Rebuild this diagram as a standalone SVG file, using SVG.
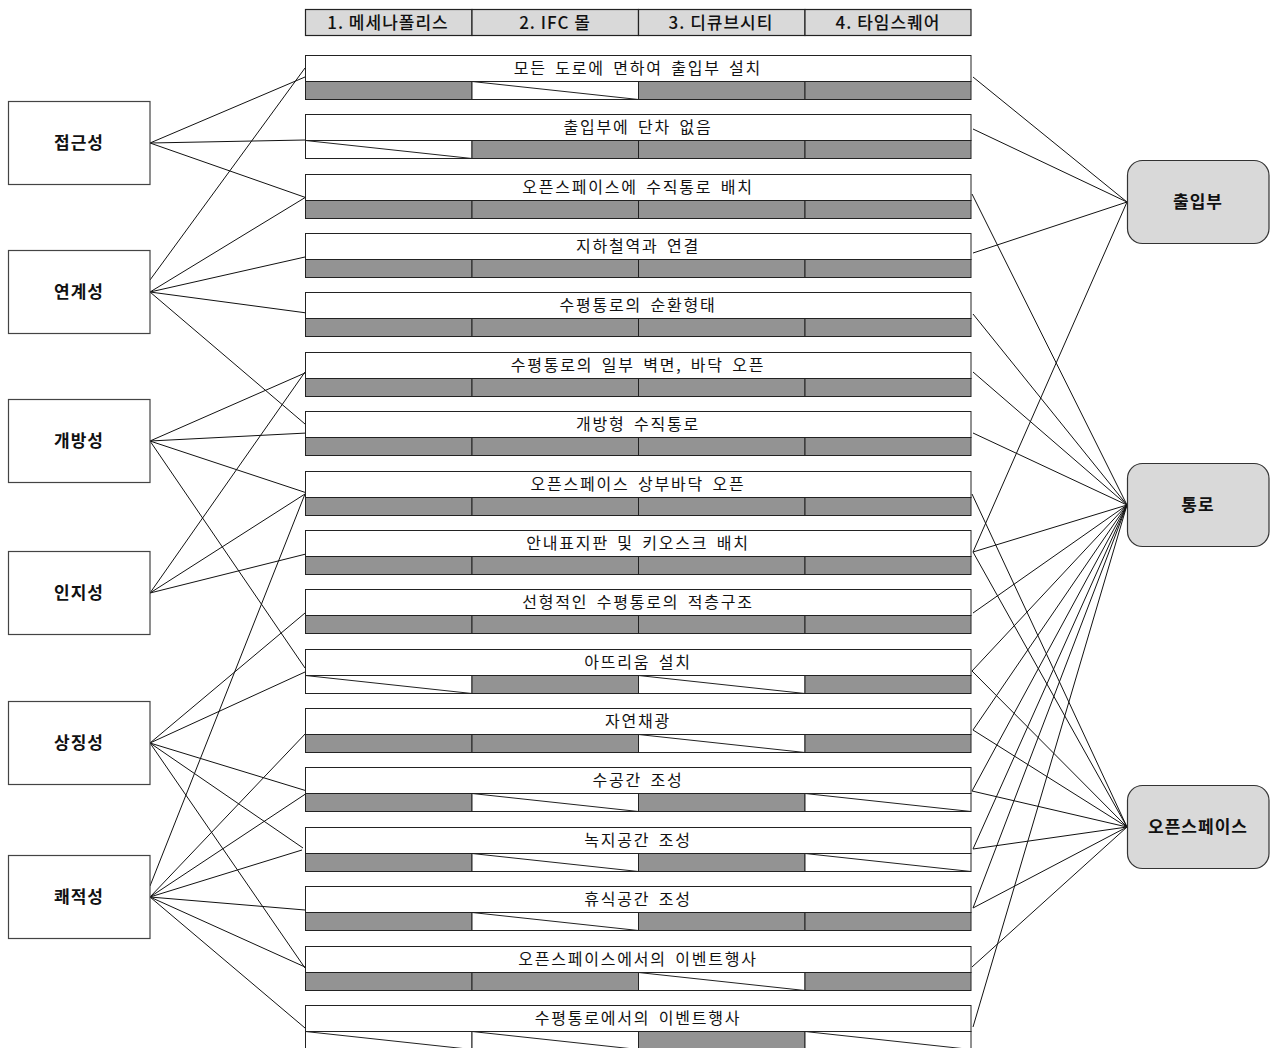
<svg xmlns="http://www.w3.org/2000/svg" width="1273" height="1048" viewBox="0 0 1273 1048">
<style>
.bg{fill:#ffffff}
.hdr{fill:#d9d9d9;stroke:#222;stroke-width:1.2}
.ht{font-family:"Noto Sans CJK KR",sans-serif;font-size:17px;font-weight:500;fill:#111;text-anchor:middle;letter-spacing:1px}
.lab{fill:#fff;stroke:#222;stroke-width:1}
.g{fill:#939393;stroke:#222;stroke-width:1}
.w{fill:#fff;stroke:#222;stroke-width:1}
.d{stroke:#222;stroke-width:1;fill:none}
.rt{font-family:"Noto Sans CJK KR",sans-serif;font-size:16px;fill:#111;text-anchor:middle;letter-spacing:1.8px;word-spacing:3px}
.ln{fill:#fff;stroke:#444;stroke-width:1.2}
.rn{fill:#d9d9d9;stroke:#333;stroke-width:1.2}
.nt{font-family:"Noto Sans CJK KR",sans-serif;font-size:17px;font-weight:bold;fill:#111;text-anchor:middle;letter-spacing:1px}
#connectors line{stroke:#111;stroke-width:1}
</style>
<defs>
<g id="G1"><rect class="g" x="305.5" y="26.5" width="166.5" height="18"/></g>
<g id="W1"><rect class="w" x="305.5" y="26.5" width="166.5" height="18"/><line class="d" x1="305.5" y1="26.5" x2="472" y2="44.5"/></g>
<g id="G2"><rect class="g" x="472" y="26.5" width="166.5" height="18"/></g>
<g id="W2"><rect class="w" x="472" y="26.5" width="166.5" height="18"/><line class="d" x1="472" y1="26.5" x2="638.5" y2="44.5"/></g>
<g id="G3"><rect class="g" x="638.5" y="26.5" width="166.5" height="18"/></g>
<g id="W3"><rect class="w" x="638.5" y="26.5" width="166.5" height="18"/><line class="d" x1="638.5" y1="26.5" x2="805" y2="44.5"/></g>
<g id="G4"><rect class="g" x="805" y="26.5" width="166" height="18"/></g>
<g id="W4"><rect class="w" x="805" y="26.5" width="166" height="18"/><line class="d" x1="805" y1="26.5" x2="971" y2="44.5"/></g>
<rect id="top" class="lab" x="305.5" y="0.5" width="665.5" height="26"/>
</defs>
<rect class="bg" x="0" y="0" width="1273" height="1048"/>

<g id="header">
<rect class="hdr" x="305.5" y="9.5" width="166.5" height="26"/>
<rect class="hdr" x="472" y="9.5" width="166.5" height="26"/>
<rect class="hdr" x="638.5" y="9.5" width="166.5" height="26"/>
<rect class="hdr" x="805" y="9.5" width="166" height="26"/>
<text class="ht" x="388" y="28.5">1. 메세나폴리스</text>
<text class="ht" x="555" y="28.5">2. IFC 몰</text>
<text class="ht" x="721" y="28.5">3. 디큐브시티</text>
<text class="ht" x="888" y="28.5">4. 타임스퀘어</text>
</g>

<g id="connectors">
<line x1="150" y1="143" x2="305" y2="77"/>
<line x1="150" y1="143" x2="305" y2="140"/>
<line x1="150" y1="143" x2="307" y2="198"/>
<line x1="150" y1="280" x2="305" y2="68"/>
<line x1="150" y1="292" x2="306" y2="197"/>
<line x1="150" y1="292" x2="305" y2="257"/>
<line x1="150" y1="292" x2="307" y2="313"/>
<line x1="150" y1="292" x2="305" y2="424"/>
<line x1="150" y1="441" x2="305" y2="373"/>
<line x1="150" y1="441" x2="307" y2="433"/>
<line x1="150" y1="441" x2="310" y2="494"/>
<line x1="150" y1="441" x2="305" y2="668"/>
<line x1="150" y1="593" x2="305" y2="372"/>
<line x1="150" y1="593" x2="305" y2="494"/>
<line x1="150" y1="593" x2="310" y2="553"/>
<line x1="150" y1="743" x2="305" y2="613"/>
<line x1="150" y1="743" x2="305" y2="672"/>
<line x1="150" y1="743" x2="307" y2="791"/>
<line x1="150" y1="743" x2="303" y2="848"/>
<line x1="150" y1="743" x2="305" y2="968"/>
<line x1="150" y1="886" x2="305" y2="494"/>
<line x1="150" y1="897" x2="307" y2="732"/>
<line x1="150" y1="897" x2="307" y2="793"/>
<line x1="150" y1="897" x2="302" y2="850"/>
<line x1="150" y1="897" x2="305" y2="910"/>
<line x1="150" y1="897" x2="305" y2="967"/>
<line x1="150" y1="897" x2="305" y2="1028"/>

<line x1="1127" y1="202" x2="973" y2="77"/>
<line x1="1127" y1="202" x2="973" y2="129"/>
<line x1="1127" y1="202" x2="973" y2="253"/>
<line x1="1127" y1="202" x2="973" y2="552"/>

<line x1="1127" y1="505" x2="972" y2="194"/>
<line x1="1127" y1="505" x2="973" y2="314"/>
<line x1="1127" y1="505" x2="973" y2="372"/>
<line x1="1127" y1="505" x2="973" y2="433"/>
<line x1="1127" y1="505" x2="973" y2="552"/>
<line x1="1127" y1="505" x2="973" y2="613"/>
<line x1="1127" y1="505" x2="972" y2="671"/>
<line x1="1127" y1="505" x2="973" y2="730"/>
<line x1="1127" y1="505" x2="972" y2="791"/>
<line x1="1127" y1="505" x2="973" y2="849"/>
<line x1="1127" y1="505" x2="973" y2="908"/>
<line x1="1127" y1="505" x2="973" y2="1027"/>

<line x1="1127" y1="827" x2="972" y2="494"/>
<line x1="1127" y1="827" x2="973" y2="552"/>
<line x1="1127" y1="827" x2="972" y2="671"/>
<line x1="1127" y1="827" x2="973" y2="730"/>
<line x1="1127" y1="827" x2="972" y2="791"/>
<line x1="1127" y1="827" x2="973" y2="849"/>
<line x1="1127" y1="827" x2="973" y2="908"/>
<line x1="1127" y1="827" x2="972" y2="967"/>
</g>

<g id="row1" transform="translate(0,55)"><use href="#top"/><use href="#G1"/><use href="#W2"/><use href="#G3"/><use href="#G4"/><text class="rt" x="638" y="19">모든 도로에 면하여 출입부 설치</text></g>
<g id="row2" transform="translate(0,114)"><use href="#top"/><use href="#W1"/><use href="#G2"/><use href="#G3"/><use href="#G4"/><text class="rt" x="638" y="19">출입부에 단차 없음</text></g>
<g id="row3" transform="translate(0,174)"><use href="#top"/><use href="#G1"/><use href="#G2"/><use href="#G3"/><use href="#G4"/><text class="rt" x="638" y="19">오픈스페이스에 수직통로 배치</text></g>
<g id="row4" transform="translate(0,233)"><use href="#top"/><use href="#G1"/><use href="#G2"/><use href="#G3"/><use href="#G4"/><text class="rt" x="638" y="19">지하철역과 연결</text></g>
<g id="row5" transform="translate(0,292)"><use href="#top"/><use href="#G1"/><use href="#G2"/><use href="#G3"/><use href="#G4"/><text class="rt" x="638" y="19">수평통로의 순환형태</text></g>
<g id="row6" transform="translate(0,352)"><use href="#top"/><use href="#G1"/><use href="#G2"/><use href="#G3"/><use href="#G4"/><text class="rt" x="638" y="19">수평통로의 일부 벽면, 바닥 오픈</text></g>
<g id="row7" transform="translate(0,411)"><use href="#top"/><use href="#G1"/><use href="#G2"/><use href="#G3"/><use href="#G4"/><text class="rt" x="638" y="19">개방형 수직통로</text></g>
<g id="row8" transform="translate(0,471)"><use href="#top"/><use href="#G1"/><use href="#G2"/><use href="#G3"/><use href="#G4"/><text class="rt" x="638" y="19">오픈스페이스 상부바닥 오픈</text></g>
<g id="row9" transform="translate(0,530)"><use href="#top"/><use href="#G1"/><use href="#G2"/><use href="#G3"/><use href="#G4"/><text class="rt" x="638" y="19">안내표지판 및 키오스크 배치</text></g>
<g id="row10" transform="translate(0,589)"><use href="#top"/><use href="#G1"/><use href="#G2"/><use href="#G3"/><use href="#G4"/><text class="rt" x="638" y="19">선형적인 수평통로의 적층구조</text></g>
<g id="row11" transform="translate(0,649)"><use href="#top"/><use href="#W1"/><use href="#G2"/><use href="#W3"/><use href="#G4"/><text class="rt" x="638" y="19">아뜨리움 설치</text></g>
<g id="row12" transform="translate(0,708)"><use href="#top"/><use href="#G1"/><use href="#G2"/><use href="#W3"/><use href="#G4"/><text class="rt" x="638" y="19">자연채광</text></g>
<g id="row13" transform="translate(0,767)"><use href="#top"/><use href="#G1"/><use href="#W2"/><use href="#G3"/><use href="#W4"/><text class="rt" x="638" y="19">수공간 조성</text></g>
<g id="row14" transform="translate(0,827)"><use href="#top"/><use href="#G1"/><use href="#W2"/><use href="#G3"/><use href="#W4"/><text class="rt" x="638" y="19">녹지공간 조성</text></g>
<g id="row15" transform="translate(0,886)"><use href="#top"/><use href="#G1"/><use href="#W2"/><use href="#G3"/><use href="#G4"/><text class="rt" x="638" y="19">휴식공간 조성</text></g>
<g id="row16" transform="translate(0,946)"><use href="#top"/><use href="#G1"/><use href="#G2"/><use href="#W3"/><use href="#G4"/><text class="rt" x="638" y="19">오픈스페이스에서의 이벤트행사</text></g>
<g id="row17" transform="translate(0,1005)"><use href="#top"/><use href="#W1"/><use href="#W2"/><use href="#G3"/><use href="#W4"/><text class="rt" x="638" y="19">수평통로에서의 이벤트행사</text></g>

<g id="n-access"><rect class="ln" x="8.5" y="101.5" width="141.5" height="83"/><text class="nt" x="79" y="149">접근성</text></g>
<g id="n-link"><rect class="ln" x="8.5" y="250.5" width="141.5" height="83"/><text class="nt" x="79" y="298">연계성</text></g>
<g id="n-open"><rect class="ln" x="8.5" y="399.5" width="141.5" height="83"/><text class="nt" x="79" y="447">개방성</text></g>
<g id="n-cog"><rect class="ln" x="8.5" y="551.5" width="141.5" height="83"/><text class="nt" x="79" y="599">인지성</text></g>
<g id="n-sym"><rect class="ln" x="8.5" y="701.5" width="141.5" height="83"/><text class="nt" x="79" y="749">상징성</text></g>
<g id="n-amen"><rect class="ln" x="8.5" y="855.5" width="141.5" height="83"/><text class="nt" x="79" y="903">쾌적성</text></g>

<g id="n-entry"><rect class="rn" x="1127.5" y="160.5" width="141.5" height="83" rx="15"/><text class="nt" x="1198" y="208">출입부</text></g>
<g id="n-path"><rect class="rn" x="1127.5" y="463.5" width="141.5" height="83" rx="15"/><text class="nt" x="1198" y="511">통로</text></g>
<g id="n-os"><rect class="rn" x="1127.5" y="785.5" width="141.5" height="83" rx="15"/><text class="nt" x="1198" y="833">오픈스페이스</text></g>
</svg>
